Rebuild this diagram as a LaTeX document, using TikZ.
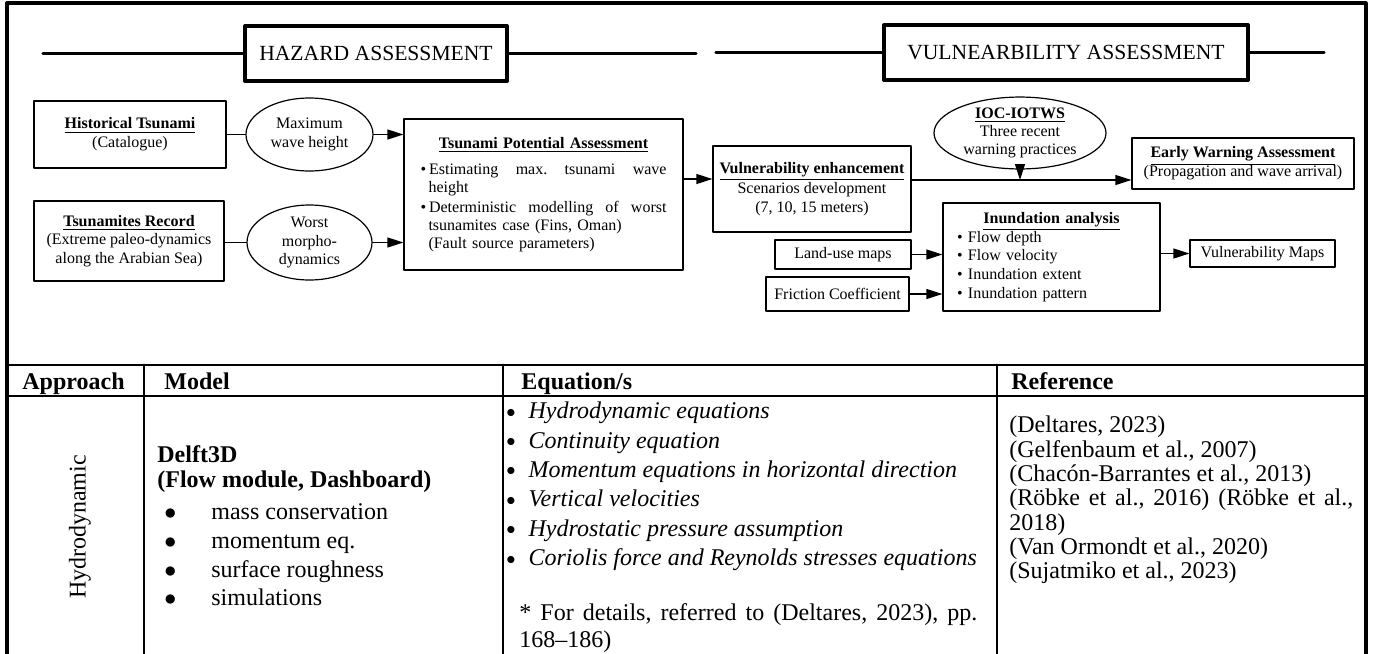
\documentclass[tikz,border=0pt]{standalone}
\usepackage{fontspec}
\setmainfont{Liberation Serif}
\usetikzlibrary{arrows.meta,shapes.geometric}
\frenchspacing
\newcommand{\eqdot}{\raisebox{0.8pt}{\fontsize{9}{9}\selectfont$\bullet$}\hspace{6.5pt}}

\begin{document}
\begin{tikzpicture}[line cap=round,line join=round,>={Triangle[length=8pt,width=5pt]},x=0.5pt,y=-0.5pt,
bx/.style={draw,line width=0.6pt,align=center,inner sep=1pt,font=\fontsize{8}{9.4}\selectfont},
ov/.style={draw,ellipse,line width=0.6pt,align=center,inner sep=0pt,font=\fontsize{8}{9.2}\selectfont},
phase/.style={draw,line width=2pt,minimum height=27.5pt,font=\fontsize{10.8}{13}\selectfont},
rule/.style={line width=1.6pt},
tbl/.style={line width=1.4pt},
cnx/.style={line width=0.6pt},
hd/.style={anchor=base west,inner sep=0pt,font=\fontsize{12}{14}\selectfont\bfseries},
cell/.style={anchor=west,align=left,inner sep=0pt}]
\useasboundingbox (0,0) rectangle (1373,654);

\draw [rule] (7,654) -- (7,3) -- (1366,3) -- (1366,654);

\node [phase,minimum width=131pt] (haz) at (376,53.5) {HAZARD ASSESSMENT};
\node [phase,minimum width=182pt] (vul) at (1066,52.5) {VULNEARBILITY ASSESSMENT};
\coordinate (hzL) at (43,53.5);
\coordinate (hzR) at (696,53.5);
\coordinate (vuL) at (716,52.5);
\coordinate (vuR) at (1324,52.5);
\draw [rule] (hzL) -- (haz);
\draw [rule] (haz) -- (hzR);
\draw [rule] (vuL) -- (vul);
\draw [rule] (vul) -- (vuR);

\node [bx,minimum width=96pt,minimum height=33.5pt] (hist) at (130,134.5) {\textbf{\underline{Historical Tsunami}}\\(Catalogue)};
\node [ov,minimum width=63.5pt,minimum height=36.5pt] (maxw) at (309.5,134.5) {Maximum\\wave height};
\node [bx,minimum width=95pt,minimum height=40pt] (tsrec) at (129,241) {\textbf{\underline{Tsunamites Record}}\\(Extreme paleo-dynamics\\along the Arabian Sea)};
\node [ov,minimum width=62.5pt,minimum height=37.5pt] (worst) at (309.5,242.5) {Worst\\morpho-\\dynamics};
\node [bx,text width=123pt,inner xsep=8.25pt,minimum height=75.5pt,align=left,font=\fontsize{8}{9}\selectfont] (tpa) at (543.5,194.5) {{\centering\textbf{\underline{Tsunami Potential Assessment}}\par}\vspace{4pt}
\textbullet\hspace{1.5pt}Estimating\hfill max.\hfill tsunami\hfill wave\\
\hspace*{4pt}height\\[1pt]
\textbullet\hspace{1.5pt}Deterministic\hfill modelling\hfill of\hfill worst\\
\hspace*{4pt}tsunamites case (Fins, Oman)\\
\hspace*{4pt}(Fault source parameters)};
\node [bx,minimum width=99pt,minimum height=43pt,inner sep=0pt,font=\fontsize{8}{9.25}\selectfont] (ve) at (812,189) {\textbf{\underline{Vulnerability enhancement}}\\Scenarios development\\(7, 10, 15 meters)};
\node [ov,minimum width=86pt,minimum height=35pt] (ioc) at (1020,133) {\textbf{\underline{IOC-IOTWS}}\\Three recent\\warning practices};
\node [bx,minimum width=111pt,minimum height=25.5pt] (ew) at (1243,163.5) {\textbf{\underline{Early Warning Assessment}}\\(Propagation and wave arrival)};
\node [bx,text width=94.5pt,inner xsep=7pt,minimum height=54pt,align=left] (inund) at (1051.5,257) {{\centering\textbf{\underline{Inundation analysis}}\par}\textbullet{} Flow depth\\\textbullet{} Flow velocity\\\textbullet{} Inundation extent\\\textbullet{} Inundation pattern};
\node [bx,minimum width=68pt,minimum height=14.5pt] (land) at (843,254.5) {Land-use maps};
\node [bx,minimum width=71.5pt,minimum height=17pt] (fric) at (837.5,294) {Friction Coefficient};
\node [bx,minimum width=72.5pt,minimum height=13.5pt] (vmap) at (1262.5,253.5) {Vulnerability Maps};

\draw [cnx] (maxw -| hist.east) -- (maxw);
\draw [cnx,->] (maxw) -- (maxw -| tpa.west);
\draw [cnx] (worst -| tsrec.east) -- (worst);
\draw [cnx,->] (worst) -- (worst -| tpa.west);
\coordinate (veIn) at ([yshift=5pt]ve.west);
\draw [cnx,->] (veIn -| tpa.east) -- (veIn);
\coordinate (ewIn) at ([yshift=4.5pt]ve.east);
\draw [cnx,->] (ewIn) -- (ewIn -| ew.west);
\draw [cnx,->] (ioc) -- (ioc |- ewIn);
\draw [cnx,->] (land) -- (land -| inund.west);
\draw [cnx,->] (fric) -- (fric -| inund.west);
\draw [cnx,->] (vmap -| inund.east) -- (vmap);

\draw [tbl] (7,365) -- (1366,365);
\draw [tbl] (7,396) -- (1366,396);
\draw [tbl] (144,365) -- (144,654);
\draw [tbl] (503,365) -- (503,654);
\draw [tbl] (997,365) -- (997,654);

\node [hd] (hApp) at (22,389) {Approach};
\node [hd] (hMod) at (164,389) {Model};
\node [hd] (hEq) at (521,389) {Equation/s};
\node [hd] (hRef) at (1011,389) {Reference};

\node [rotate=90,font=\fontsize{12}{14}\selectfont] (appr) at (80,527) {Hydrodynamic};
\node [cell,font=\fontsize{12}{12.5}\selectfont\bfseries] (mTitle) at (157,469.5) {Delft3D\\(Flow module, Dashboard)};
\node [cell,font=\fontsize{12}{14.35}\selectfont] (mList) at (164,555) {$\bullet$\hspace{17.5pt}mass conservation\\$\bullet$\hspace{17.5pt}momentum eq.\\$\bullet$\hspace{17.5pt}surface roughness\\$\bullet$\hspace{17.5pt}simulations};
\node [cell,font=\fontsize{12}{14.7}\selectfont] (eqList) at (506,486.5) {\eqdot\textit{Hydrodynamic equations}\\\eqdot\textit{Continuity equation}\\\eqdot\textit{Momentum equations in horizontal direction}\\\eqdot\textit{Vertical velocities}\\\eqdot\textit{Hydrostatic pressure assumption}\\\eqdot\textit{Coriolis force and Reynolds stresses equations}};
\node [cell,text width=229pt,align=justify,font=\fontsize{12}{13.5}\selectfont] (eqNote) at (519,628.5) {* For details, referred to (Deltares, 2023), pp.\linebreak 168--186)};
\node [cell,text width=172pt,align=justify,font=\fontsize{12}{12.17}\selectfont] (refs) at (1009,500) {(Deltares, 2023)\newline (Gelfenbaum et al., 2007)\newline (Chacón-Barrantes et al., 2013)\newline (Röbke et al., 2016) (Röbke et al.,\linebreak 2018)\newline (Van Ormondt et al., 2020)\newline (Sujatmiko et al., 2023)};
\end{tikzpicture}
\end{document}
